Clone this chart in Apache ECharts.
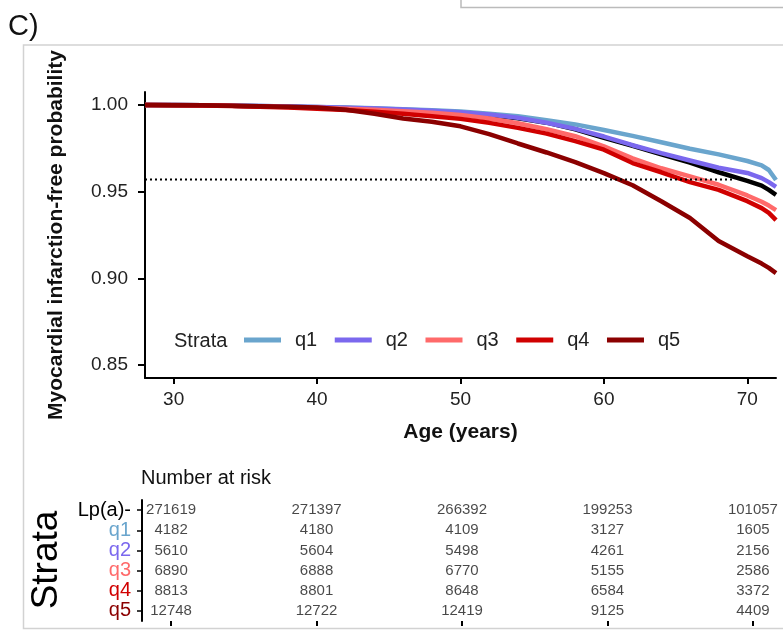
<!DOCTYPE html>
<html>
<head>
<meta charset="utf-8">
<script src="https://cdn.jsdelivr.net/npm/echarts@6/dist/echarts.min.js"></script>
<style>
html,body{margin:0;padding:0;background:#fff;}
#chart{width:783px;height:635px;}
</style>
</head>
<body>
<div id="chart"></div>
<script>
// ---- data ----
var ages = [28, 30, 32, 34, 36, 38, 40, 42, 44, 46, 48, 50, 52, 54, 56, 58, 60, 62, 64, 66, 68, 70, 71, 71.5, 72];
var survLpaNeg = [1.0000, 1.0000, 0.9998, 0.9996, 0.9993, 0.9990, 0.9986, 0.9982, 0.9977, 0.9971, 0.9964, 0.9955, 0.9942, 0.9924, 0.9898, 0.9860, 0.9810, 0.9765, 0.9715, 0.9668, 0.9612, 0.9562, 0.9535, 0.9510, 0.9482];
var survQ1 = [1.0000, 1.0000, 0.9998, 0.9996, 0.9994, 0.9991, 0.9988, 0.9985, 0.9981, 0.9976, 0.9970, 0.9962, 0.9950, 0.9935, 0.9912, 0.9888, 0.9856, 0.9822, 0.9785, 0.9748, 0.9715, 0.9677, 0.9652, 0.9625, 0.9567];
var survQ2 = [1.0000, 1.0000, 0.9998, 0.9996, 0.9994, 0.9991, 0.9988, 0.9984, 0.9980, 0.9974, 0.9967, 0.9958, 0.9945, 0.9926, 0.9898, 0.9862, 0.9818, 0.9768, 0.9722, 0.9680, 0.9638, 0.9608, 0.9578, 0.9555, 0.9528];
var survQ3 = [1.0000, 1.0000, 0.9998, 0.9995, 0.9992, 0.9988, 0.9984, 0.9979, 0.9972, 0.9964, 0.9955, 0.9942, 0.9922, 0.9895, 0.9860, 0.9820, 0.9762, 0.9692, 0.9635, 0.9588, 0.9540, 0.9478, 0.9442, 0.9420, 0.9394];
var survQ4 = [1.0000, 0.9999, 0.9997, 0.9994, 0.9990, 0.9985, 0.9979, 0.9971, 0.9961, 0.9950, 0.9935, 0.9920, 0.9897, 0.9868, 0.9835, 0.9792, 0.9742, 0.9665, 0.9612, 0.9555, 0.9510, 0.9445, 0.9405, 0.9378, 0.9336];
var survQ5 = [1.0000, 0.9999, 0.9998, 0.9996, 0.9993, 0.9990, 0.9985, 0.9972, 0.9950, 0.9922, 0.9903, 0.9877, 0.9832, 0.9778, 0.9726, 0.9670, 0.9607, 0.9537, 0.9445, 0.9348, 0.9215, 0.9128, 0.9085, 0.9060, 0.9030];

var refLineAges = [28, 69];
var refLineValue = 0.957;

var xTicks = [30, 40, 50, 60, 70];
var yTicks = [0.85, 0.90, 0.95, 1.00];

var strataNames = ['Lp(a)-', 'q1', 'q2', 'q3', 'q4', 'q5'];
var strataColors = ['#000000', '#6aa5cd', '#7b68ee', '#ff6a6a', '#d00000', '#8b0000'];

var riskAges = [30, 40, 50, 60, 70];
var riskLpaNeg = [271619, 271397, 266392, 199253, 101057];
var riskQ1 = [4182, 4180, 4109, 3127, 1605];
var riskQ2 = [5610, 5604, 5498, 4261, 2156];
var riskQ3 = [6890, 6888, 6770, 5155, 2586];
var riskQ4 = [8813, 8801, 8648, 6584, 3372];
var riskQ5 = [12748, 12722, 12419, 9125, 4409];

// ---- build ----
var FONT = '"Liberation Sans", Arial, sans-serif';
var survSets = [survLpaNeg, survQ1, survQ2, survQ3, survQ4, survQ5];
var riskSets = [riskLpaNeg, riskQ1, riskQ2, riskQ3, riskQ4, riskQ5];

function pairs(xs, ys) { return xs.map(function (x, i) { return [x, ys[i]]; }); }

var series = [];
strataNames.forEach(function (name, k) {
  series.push({
    name: name,
    type: 'line',
    xAxisIndex: 0, yAxisIndex: 0,
    data: pairs(ages, survSets[k]),
    showSymbol: false,
    symbol: 'none',
    lineStyle: { width: 4.5, color: strataColors[k] },
    itemStyle: { color: strataColors[k] },
    z: 2 + k
  });
});
series.push({
  name: 'ref',
  type: 'line',
  xAxisIndex: 0, yAxisIndex: 0,
  data: refLineAges.map(function (a) { return [a, refLineValue]; }),
  symbol: 'none',
  lineStyle: { width: 2, color: '#000', type: [2, 3] },
  z: 10
});
var riskData = [];
strataNames.forEach(function (name, k) {
  riskAges.forEach(function (a, i) { riskData.push([a, k, riskSets[k][i]]); });
});
series.push({
  type: 'scatter',
  xAxisIndex: 1, yAxisIndex: 1,
  data: riskData,
  symbolSize: 2,
  itemStyle: { color: 'rgba(0,0,0,0)' },
  label: {
    show: true, position: 'inside',
    formatter: function (p) { return String(p.value[2]); },
    fontFamily: FONT, fontSize: 15, color: '#1a1a1a'
  },
  z: 20
});

var axisLineStyle = { lineStyle: { color: '#000', width: 2 } };

var option = {
  animation: false,
  backgroundColor: '#ffffff',
  textStyle: { fontFamily: FONT },
  grid: [
    { left: 145, right: 7, top: 92, bottom: 257 },
    { left: 142, right: 1, top: 500, bottom: 14 }
  ],
  legend: {
    data: ['q1', 'q2', 'q3', 'q4', 'q5'],
    left: 244, top: 330, padding: 0,
    orient: 'horizontal',
    icon: 'rect',
    itemWidth: 37, itemHeight: 5, itemGap: 17.5,
    textStyle: { fontFamily: FONT, fontSize: 20, color: '#222', padding: [0, 0, 0, 9] }
  },
  xAxis: [
    {
      type: 'value', gridIndex: 0, min: 28, max: 72,
      name: 'Age (years)', nameLocation: 'middle', nameGap: 44,
      nameTextStyle: { fontFamily: FONT, fontSize: 21, fontWeight: 'bold', color: '#111' },
      axisLine: axisLineStyle,
      axisTick: { show: true, length: 6, customValues: xTicks, lineStyle: { color: '#000', width: 2 } },
      axisLabel: { customValues: xTicks, fontSize: 19, color: '#222', margin: 12 },
      splitLine: { show: false }
    },
    {
      type: 'value', gridIndex: 1, min: 28, max: 72,
      axisLine: axisLineStyle,
      axisTick: { show: true, length: 5, customValues: riskAges, lineStyle: { color: '#000', width: 2 } },
      axisLabel: { show: false },
      splitLine: { show: false }
    }
  ],
  yAxis: [
    {
      type: 'value', gridIndex: 0, min: 0.8425, max: 1.0075,
      name: 'Myocardial infarction-free probability', nameLocation: 'middle', nameGap: 78,
      nameTextStyle: { fontFamily: FONT, fontSize: 21, fontWeight: 'bold', color: '#111' },
      axisLine: { show: true, lineStyle: { color: '#000', width: 2 } },
      axisTick: { show: true, length: 7, customValues: yTicks, lineStyle: { color: '#000', width: 2 } },
      axisLabel: { customValues: yTicks, fontSize: 19, color: '#222', margin: 17,
        formatter: function (v) { return v.toFixed(2); } },
      splitLine: { show: false }
    },
    {
      type: 'category', gridIndex: 1, data: strataNames, inverse: true,
      axisLine: { show: true, lineStyle: { color: '#000', width: 2 } },
      axisTick: { show: true, alignWithLabel: true, interval: 0, length: 5, lineStyle: { color: '#000', width: 1.5 } },
      axisLabel: { fontSize: 20, margin: 11, interval: 0,
        color: function (v, i) { return strataColors[strataNames.indexOf(v)]; } },
      splitLine: { show: false }
    }
  ],
  graphic: [
    { type: 'rect', shape: { x: 461, y: -5, width: 340, height: 12.5 },
      style: { fill: 'none', stroke: '#bbbbbb', lineWidth: 1.5 }, silent: true },
    { type: 'rect', shape: { x: 23.5, y: 45, width: 780, height: 583.5 },
      style: { fill: 'none', stroke: '#d2d2d2', lineWidth: 1.5 }, silent: true, z: -1 },
    { type: 'text', x: 8, y: 27,
      style: { text: 'C)', fontFamily: FONT, fontSize: 29, fill: '#111', verticalAlign: 'middle' } },
    { type: 'text', x: 174, y: 341,
      style: { text: 'Strata', fontFamily: FONT, fontSize: 20, fill: '#222', verticalAlign: 'middle' } },
    { type: 'text', x: 141, y: 478,
      style: { text: 'Number at risk', fontFamily: FONT, fontSize: 20, fill: '#111', verticalAlign: 'middle' } },
    { type: 'text', x: 47, y: 560, rotation: Math.PI / 2,
      style: { text: 'Strata', fontFamily: FONT, fontSize: 37, fill: '#000', align: 'center', verticalAlign: 'middle' } }
  ],
  series: series
};

var chart = echarts.init(document.getElementById('chart'), null, { renderer: 'canvas' });
chart.setOption(option);
</script>
</body>
</html>
